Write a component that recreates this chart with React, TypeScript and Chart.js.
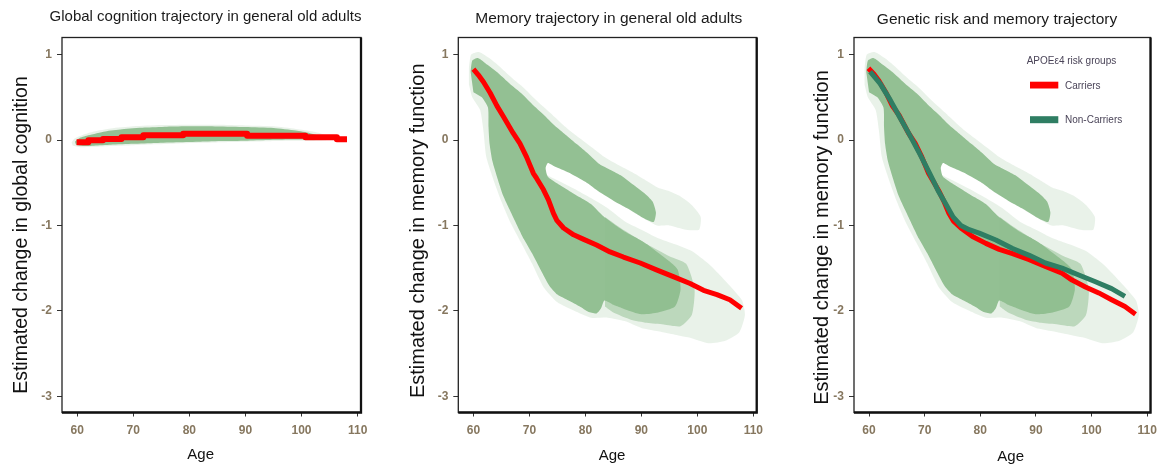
import React, { useEffect, useRef } from "react";
import { Chart, registerables } from "chart.js";

Chart.register(...registerables);

const FONT = '"Liberation Sans", Arial, Helvetica, sans-serif';

// ---------- shared axis ticks ----------
const ageTicks = [60, 70, 80, 90, 100, 110];
const changeTicks = [-3, -2, -1, 0, 1];

// ---------- Panel 1: global cognition ----------
const globalLineAge = [59.9, 62.0, 64.6, 67.9, 71.8, 78.9, 90.3, 100.7, 106.3, 108.1];
const globalLineChange = [-0.027, -0.004, 0.012, 0.031, 0.055, 0.074, 0.05, 0.031, 0.008, 0.008];

const globalCloudOuter: [number, number][] = [
  [59.0, -0.03], [59.6, 0.02], [61, 0.06], [63, 0.1], [66, 0.135], [70, 0.16], [75, 0.175],
  [80, 0.18], [85, 0.178], [90, 0.17], [95, 0.16], [99, 0.13], [102, 0.1], [104, 0.065],
  [105, 0.03], [104.5, 0.0], [102, -0.008], [98, -0.01], [94, -0.015], [90, -0.02],
  [86, -0.025], [82, -0.032], [78, -0.04], [74, -0.05], [70, -0.06], [66, -0.07],
  [63, -0.08], [60.5, -0.085], [59.2, -0.065],
];
const globalCloudCore: [number, number][] = [
  [59.6, -0.02], [60.5, 0.025], [62, 0.055], [65, 0.1], [68, 0.125], [72, 0.145], [76, 0.155],
  [80, 0.16], [85, 0.158], [90, 0.152], [95, 0.14], [99, 0.11], [101.5, 0.08], [103, 0.05],
  [103.5, 0.025], [102, 0.01], [98, 0.005], [94, 0.0], [90, -0.008], [86, -0.013],
  [82, -0.02], [78, -0.026], [74, -0.035], [70, -0.045], [66, -0.056], [63, -0.066],
  [61, -0.07], [59.8, -0.055],
];

// ---------- Panel 2: memory ----------
const memoryLineAge = [60.0, 60.9, 61.8, 63.0, 64.2, 65.4, 67.1, 68.3, 69.5, 70.7, 71.3, 72.5, 73.4, 74.3, 74.9, 76.1, 77.9, 79.6, 82.0, 84.4, 86.8, 89.8, 92.7, 95.7, 98.7, 101.1, 103.5, 105.8, 107.9];
const memoryLineChange = [0.83, 0.76, 0.68, 0.55, 0.4, 0.27, 0.08, -0.04, -0.2, -0.39, -0.45, -0.58, -0.7, -0.86, -0.94, -1.03, -1.11, -1.16, -1.23, -1.31, -1.37, -1.44, -1.52, -1.6, -1.68, -1.76, -1.81, -1.87, -1.97];

const memoryCloudOuter: [number, number][] = [
  [59.2, 0.85], [59.6, 1.0], [61, 1.03], [63, 0.95], [65, 0.84], [67, 0.72], [69, 0.61],
  [71, 0.48], [73, 0.36], [75, 0.24], [77, 0.12], [79, 0.02], [81, -0.08], [83, -0.18],
  [85, -0.26], [87, -0.33], [89, -0.4], [91, -0.48], [93, -0.56], [95, -0.6], [97, -0.66],
  [99, -0.76], [100.6, -0.9], [100.3, -1.05], [98, -1.05], [95, -1.0], [92.8, -1.0],
  [90, -0.9], [87, -0.78], [84, -0.66], [81, -0.53], [78, -0.41], [75.5, -0.32], [73.2, -0.24],
  [72.6, -0.3], [73, -0.4], [75, -0.47], [78, -0.57], [81, -0.68], [84, -0.8], [87, -0.95],
  [90, -1.05], [93, -1.15], [96, -1.22], [99, -1.3], [102, -1.45], [104, -1.58], [106, -1.72],
  [108, -1.88], [108.5, -2.05], [107.5, -2.25], [105, -2.35], [102, -2.38], [99, -2.32],
  [96, -2.28], [93, -2.24], [90, -2.2], [87, -2.12], [84, -2.08], [81, -2.08], [78, -2.0],
  [75, -1.9], [72.5, -1.72], [70.5, -1.45], [68.5, -1.2], [66.5, -0.95], [65, -0.72],
  [63.5, -0.45], [62.3, -0.2], [61.8, 0.1], [61.2, 0.35], [59.8, 0.5], [59.2, 0.65],
];
const memoryCloudMid: [number, number][] = [
  [83.5, -0.9], [87, -1.06], [91, -1.22], [95, -1.36], [98, -1.45], [99.5, -1.75], [99, -2.05],
  [97, -2.18], [94, -2.16], [91, -2.14], [88, -2.1], [85, -2.02], [83.5, -1.95],
];
const memoryCloudCore: [number, number][] = [
  [59.5, 0.8], [59.8, 0.93], [60.8, 0.96], [62.5, 0.88], [64.5, 0.78], [66.5, 0.66],
  [68.5, 0.55], [70.5, 0.42], [72.5, 0.3], [74.5, 0.17], [76.5, 0.06], [78.5, -0.05],
  [80.5, -0.16], [82.5, -0.28], [84.5, -0.35], [86.5, -0.42], [88.5, -0.52], [90.5, -0.62],
  [92.0, -0.72], [92.6, -0.85], [92.2, -0.96], [90.0, -0.9], [87.5, -0.8], [85.0, -0.71],
  [82.5, -0.61], [80.0, -0.49], [77.0, -0.38], [74.5, -0.31], [73.3, -0.27], [72.9, -0.33],
  [73.3, -0.43], [75.0, -0.51], [77.0, -0.59], [79.0, -0.67], [81.0, -0.75], [83.0, -0.88],
  [85.0, -0.98], [87.0, -1.07], [89.0, -1.14], [91.0, -1.22], [93.0, -1.32], [95.0, -1.42],
  [96.5, -1.52], [97.0, -1.75], [96.0, -1.95], [93.0, -2.02], [90.0, -2.04], [87.0, -1.98],
  [85.0, -1.93], [83.4, -1.88], [82.8, -1.97], [82.0, -2.03], [80.5, -2.01], [79.0, -1.95],
  [77.0, -1.88], [75.0, -1.81], [73.5, -1.7], [72.0, -1.52], [70.5, -1.33], [69.0, -1.16],
  [67.8, -1.0], [66.5, -0.82], [65.3, -0.65], [64.3, -0.45], [63.4, -0.25], [62.9, -0.05],
  [62.7, 0.15], [62.6, 0.38], [61.5, 0.5], [60.0, 0.56],
];

// ---------- Panel 3: APOE e4 groups ----------
const carriersAge = [59.9, 60.9, 61.8, 63.0, 64.2, 65.4, 67.1, 68.3, 69.5, 70.7, 72.5, 73.4, 74.3, 75.2, 76.5, 78.6, 81.0, 83.4, 85.8, 88.8, 91.7, 94.7, 96.5, 98.9, 101.3, 103.6, 106.0, 107.9];
const carriersChange = [0.84, 0.77, 0.69, 0.56, 0.4, 0.29, 0.08, -0.04, -0.2, -0.39, -0.59, -0.71, -0.85, -0.95, -1.03, -1.13, -1.21, -1.28, -1.33, -1.4, -1.48, -1.56, -1.64, -1.72, -1.79, -1.87, -1.95, -2.04];
const nonCarriersAge = [60.2, 62.0, 63.8, 65.5, 67.3, 69.1, 70.9, 72.4, 73.9, 75.1, 76.5, 78.0, 79.8, 82.8, 85.8, 88.8, 91.7, 94.7, 97.7, 100.7, 103.6, 106.0];
const nonCarriersChange = [0.8, 0.66, 0.47, 0.27, 0.06, -0.16, -0.39, -0.59, -0.76, -0.9, -1.0, -1.05, -1.09, -1.17, -1.27, -1.35, -1.44, -1.5, -1.58, -1.66, -1.74, -1.83];

const legendTitle = "APOE\u03b54 risk groups";
const legendLabels = ["Carriers", "Non-Carriers"];

// ---------- styles ----------
const RED = "#ff0000";
const TEAL = "#2f7e63";
const CLOUD_CORE = "rgba(143,190,143,0.97)";
const CLOUD_MID = "rgba(143,190,143,0.5)";
const CLOUD_OUTER = "rgba(143,190,143,0.2)";
const TICK_COLOR = "#86775f";

const toPts = (xs: number[], ys: number[]) => xs.map((x, i) => ({ x, y: ys[i] }));
const toPoly = (p: [number, number][]) => p.map(([x, y]) => ({ x, y }));

const cloudDs = (p: [number, number][], color: string) => ({
  data: toPoly(p),
  borderWidth: 0,
  borderColor: "rgba(0,0,0,0)",
  backgroundColor: color,
  fill: "shape",
  pointRadius: 0,
  tension: 0.2,
});

const lineDs = (xs: number[], ys: number[], color: string, width: number, stepped = false) => ({
  data: toPts(xs, ys),
  borderColor: color,
  backgroundColor: color,
  borderWidth: width,
  pointRadius: 0,
  fill: false,
  tension: 0,
  stepped: stepped ? "before" : false,
  borderJoinStyle: "round",
  borderCapStyle: "butt",
});

type PanelCfg = {
  left: number;
  width: number;
  areaLeft: number;
  areaRight: number;
  title: string;
  titleX: number;
  titleY: number;
  titleSize: number;
  yTitle: string;
  yTitleX: number;
  yTitleY: number;
  yTitleSize: number;
  xTitleX: number;
  xTitleY: number;
  datasets: any[];
  legend?: boolean;
};

const AREA_TOP = 37.5;
const AREA_BOTTOM = 412.5;
const H = 466;

const panels: PanelCfg[] = [
  {
    left: 0, width: 390, areaLeft: 62, areaRight: 361,
    title: "Global cognition trajectory in general old adults", titleX: 205.5, titleY: 21, titleSize: 15,
    yTitle: "Estimated change in global cognition", yTitleX: 26.5, yTitleY: 235, yTitleSize: 19.5,
    xTitleX: 200.7, xTitleY: 459.3,
    datasets: [
      lineDs(globalLineAge, globalLineChange, RED, 6, true),
      cloudDs(globalCloudCore, CLOUD_CORE),
      cloudDs(globalCloudOuter, CLOUD_OUTER),
    ],
  },
  {
    left: 390, width: 390, areaLeft: 68.3, areaRight: 366.7,
    title: "Memory trajectory in general old adults", titleX: 218.8, titleY: 22.5, titleSize: 15.5,
    yTitle: "Estimated change in memory function", yTitleX: 34.3, yTitleY: 230.8, yTitleSize: 20,
    xTitleX: 222, xTitleY: 459.5,
    datasets: [
      lineDs(memoryLineAge, memoryLineChange, RED, 5),
      cloudDs(memoryCloudCore, CLOUD_CORE),
      cloudDs(memoryCloudMid, CLOUD_MID),
      cloudDs(memoryCloudOuter, CLOUD_OUTER),
    ],
  },
  {
    left: 780, width: 384, areaLeft: 74, areaRight: 372.3,
    title: "Genetic risk and memory trajectory", titleX: 217, titleY: 24, titleSize: 15.5,
    yTitle: "Estimated change in memory function", yTitleX: 48.3, yTitleY: 237.5, yTitleSize: 20,
    xTitleX: 230.7, xTitleY: 460.5,
    legend: true,
    datasets: [
      lineDs(nonCarriersAge, nonCarriersChange, TEAL, 5),
      lineDs(carriersAge, carriersChange, RED, 5),
      cloudDs(memoryCloudCore, CLOUD_CORE),
      cloudDs(memoryCloudMid, CLOUD_MID),
      cloudDs(memoryCloudOuter, CLOUD_OUTER),
    ],
  },
];

function makeDecor(cfg: PanelCfg) {
  return {
    id: "decor",
    afterDraw(chart: any) {
      const ctx = chart.ctx as CanvasRenderingContext2D;
      const { left, right, top, bottom } = chart.chartArea;
      ctx.save();
      // frame
      ctx.strokeStyle = "#222";
      ctx.lineWidth = 1.3;
      ctx.strokeRect(left, top, right - left, bottom - top);
      ctx.strokeStyle = "#111";
      ctx.lineWidth = 2.3;
      ctx.beginPath();
      ctx.moveTo(right, top);
      ctx.lineTo(right, bottom);
      ctx.lineTo(left, bottom);
      ctx.stroke();

      // title
      ctx.fillStyle = "#1a1a1a";
      ctx.textAlign = "center";
      ctx.textBaseline = "alphabetic";
      ctx.font = `${cfg.titleSize}px ${FONT}`;
      ctx.fillText(cfg.title, cfg.titleX, cfg.titleY);

      // x title
      ctx.fillStyle = "#111";
      ctx.font = `15px ${FONT}`;
      ctx.fillText("Age", cfg.xTitleX, cfg.xTitleY);

      // y title
      ctx.save();
      ctx.translate(cfg.yTitleX, cfg.yTitleY);
      ctx.rotate(-Math.PI / 2);
      ctx.font = `${cfg.yTitleSize}px ${FONT}`;
      ctx.fillText(cfg.yTitle, 0, 0);
      ctx.restore();

      if (cfg.legend) {
        ctx.textAlign = "left";
        ctx.textBaseline = "middle";
        ctx.font = `10px ${FONT}`;
        ctx.fillStyle = "#4a4458";
        ctx.fillText(legendTitle, 246.7, 61);
        ctx.fillStyle = RED;
        ctx.fillRect(250, 81.7, 28.3, 6.8);
        ctx.fillStyle = TEAL;
        ctx.fillRect(250, 116.2, 28.3, 7);
        ctx.fillStyle = "#4a4458";
        ctx.fillText(legendLabels[0], 285, 86.5);
        ctx.fillText(legendLabels[1], 285, 120.5);
      }
      ctx.restore();
    },
  };
}

function Panel({ cfg }: { cfg: PanelCfg }) {
  const ref = useRef<HTMLCanvasElement>(null);
  useEffect(() => {
    const tickFont = { family: FONT, size: 12, weight: "bold" as const };
    const chart = new Chart(ref.current as HTMLCanvasElement, {
      type: "line",
      data: { datasets: cfg.datasets },
      options: {
        animation: false,
        responsive: false,
        events: [],
        layout: {
          padding: { left: 0, top: AREA_TOP, right: cfg.width - cfg.areaRight, bottom: 0 },
        },
        plugins: {
          legend: { display: false },
          tooltip: { enabled: false },
          title: { display: false },
        },
        scales: {
          x: {
            type: "linear",
            min: 57.3,
            max: 110.6,
            afterBuildTicks: (s: any) => {
              s.ticks = ageTicks.map((v) => ({ value: v }));
            },
            afterFit: (s: any) => {
              s.height = H - AREA_BOTTOM;
            },
            ticks: { color: TICK_COLOR, font: tickFont, padding: 7, maxRotation: 0, autoSkip: false },
            grid: { drawOnChartArea: false, drawTicks: true, tickLength: 4, color: "#333" },
            border: { display: false },
          },
          y: {
            type: "linear",
            min: -3.19,
            max: 1.2,
            afterBuildTicks: (s: any) => {
              s.ticks = changeTicks.map((v) => ({ value: v }));
            },
            afterFit: (s: any) => {
              s.width = cfg.areaLeft;
            },
            ticks: { color: TICK_COLOR, font: tickFont, padding: 5, autoSkip: false },
            grid: { drawOnChartArea: false, drawTicks: true, tickLength: 5, color: "#333" },
            border: { display: false },
          },
        },
      } as any,
      plugins: [makeDecor(cfg)],
    } as any);
    return () => chart.destroy();
  }, []);
  return (
    <canvas
      ref={ref}
      width={cfg.width}
      height={H}
      style={{ position: "absolute", left: cfg.left, top: 0, width: cfg.width, height: H, display: "block" }}
    />
  );
}

export default function App() {
  return (
    <div style={{ position: "absolute", left: 0, top: 0, width: 1164, height: H, background: "#fff" }}>
      {panels.map((p, i) => (
        <Panel key={i} cfg={p} />
      ))}
    </div>
  );
}
